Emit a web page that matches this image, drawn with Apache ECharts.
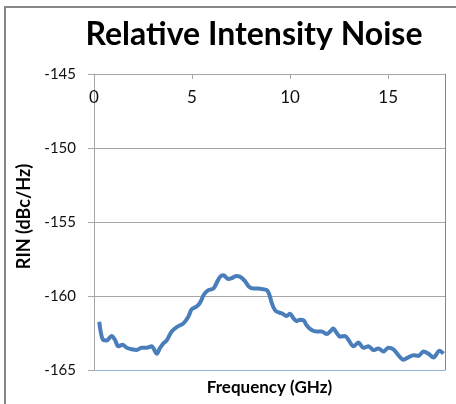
<!DOCTYPE html>
<html>
<head>
<meta charset="utf-8">
<script src="https://cdn.jsdelivr.net/npm/echarts@6/dist/echarts.min.js"></script>
<style>
  html, body { margin: 0; padding: 0; background: #fff; }
  #chart { width: 456px; height: 404px; }
</style>
</head>
<body>
<div id="chart"></div>
<script>
// frequency (GHz) and RIN (dBc/Hz)
var freq = [0.27, 0.34, 0.47, 0.65, 0.9, 1.07, 1.24, 1.46, 1.67, 1.92, 2.18, 2.43, 2.69, 2.94, 3.2, 3.37, 3.54, 3.71, 3.96, 4.22,
  4.56, 4.81, 4.98, 5.24, 5.41, 5.61, 5.83, 6.09, 6.26, 6.43, 6.6, 6.85, 7.02, 7.24, 7.45, 7.7, 7.92, 8.13, 8.38, 8.64,
  8.81, 8.94, 9.07, 9.23, 9.4, 9.62, 9.8, 10.0, 10.17, 10.34, 10.5, 10.7, 10.85, 11.1, 11.36, 11.62, 11.87, 12.04, 12.2, 12.38,
  12.55, 12.8, 12.98, 13.23, 13.48, 13.74, 14.0, 14.25, 14.5, 14.76, 15.0, 15.27, 15.52, 15.78, 16.03, 16.29, 16.55, 16.8, 17.06, 17.31,
  17.62, 17.82];
var rin = [-161.74, -162.4, -162.97, -163.0, -162.7, -162.97, -163.4, -163.3, -163.5, -163.6, -163.65, -163.5, -163.5, -163.4, -163.9, -163.5, -163.2, -163.0, -162.4, -162.1,
  -161.85, -161.4, -160.9, -160.7, -160.45, -159.9, -159.6, -159.5, -159.1, -158.7, -158.6, -158.85, -158.8, -158.65, -158.7, -159.0, -159.4, -159.5, -159.5, -159.55,
  -159.6, -159.9, -160.5, -160.95, -161.1, -161.2, -161.35, -161.2, -161.5, -161.7, -161.6, -161.65, -162.0, -162.3, -162.4, -162.4, -162.57, -162.4, -162.2, -162.5,
  -162.75, -162.7, -162.97, -163.4, -163.15, -163.5, -163.4, -163.65, -163.55, -163.75, -163.5, -163.6, -164.0, -164.3, -164.15, -164.0, -164.05, -163.75, -163.9, -164.15,
  -163.7, -163.9];
var xMin = 0, xMax = 17.9, xStep = 5;
var yMin = -165, yMax = -145, yStep = 5;

var points = freq.map(function (f, i) { return [f, rin[i]]; });

var chart = echarts.init(document.getElementById("chart"));
var font = "Lato, 'Noto Sans', sans-serif";

chart.setOption({
  animation: false,
  title: {
    text: "Relative Intensity Noise",
    left: 249,
    top: 14,
    textAlign: "center",
    textStyle: { fontFamily: font, fontWeight: "bold", fontSize: 32, color: "#000" }
  },
  graphic: [{
    type: "rect",
    shape: { x: 5, y: 7, width: 470, height: 420 },
    style: { fill: null, stroke: "#878787", lineWidth: 2 }
  }],
  grid: { left: 94, top: 74, right: 11, bottom: 34 },
  xAxis: [{
    type: "value",
    position: "top",
    min: xMin, max: xMax, interval: xStep,
    axisLine: { show: true, onZero: false, lineStyle: { color: "#a6a6a6", width: 1 } },
    axisTick: { show: true, inside: true, length: 5, lineStyle: { color: "#a6a6a6" } },
    axisLabel: { inside: true, margin: 15, fontFamily: font, fontSize: 17, color: "#111",
      showMaxLabel: false },
    splitLine: { show: false }
  }, {
    type: "value",
    position: "bottom",
    min: xMin, max: xMax,
    name: "Frequency (GHz)",
    nameLocation: "middle",
    nameGap: 9,
    nameTextStyle: { fontFamily: font, fontWeight: "bold", fontSize: 17, color: "#000" },
    axisLine: { show: true, onZero: false, lineStyle: { color: "#95b3d7", width: 1 } },
    axisTick: { show: false },
    axisLabel: { show: false },
    splitLine: { show: false }
  }],
  yAxis: [{
    type: "value",
    position: "left",
    min: yMin, max: yMax, interval: yStep,
    name: "RIN (dBc/Hz)",
    nameLocation: "middle",
    nameGap: 59,
    nameTextStyle: { fontFamily: font, fontWeight: "bold", fontSize: 18, color: "#000",
      padding: [0, 0, 0, 11] },
    axisLine: { show: true, onZero: false, lineStyle: { color: "#a6a6a6", width: 1 } },
    axisTick: { show: true, length: 6, lineStyle: { color: "#a6a6a6" } },
    axisLabel: { margin: 18, fontFamily: font, fontSize: 15, color: "#111" },
    splitLine: { show: true, lineStyle: { color: "#a6a6a6", width: 1 } }
  }, {
    type: "value",
    position: "right",
    min: yMin, max: yMax,
    axisLine: { show: true, onZero: false, lineStyle: { color: "#5b8fd0", width: 1 } },
    axisTick: { show: false },
    axisLabel: { show: false },
    splitLine: { show: false }
  }],
  series: [{
    type: "line",
    data: points,
    xAxisIndex: 0,
    yAxisIndex: 0,
    showSymbol: false,
    smooth: 0.3,
    lineStyle: { color: "#4a7ebb", width: 4 }
  }]
});
</script>
</body>
</html>
